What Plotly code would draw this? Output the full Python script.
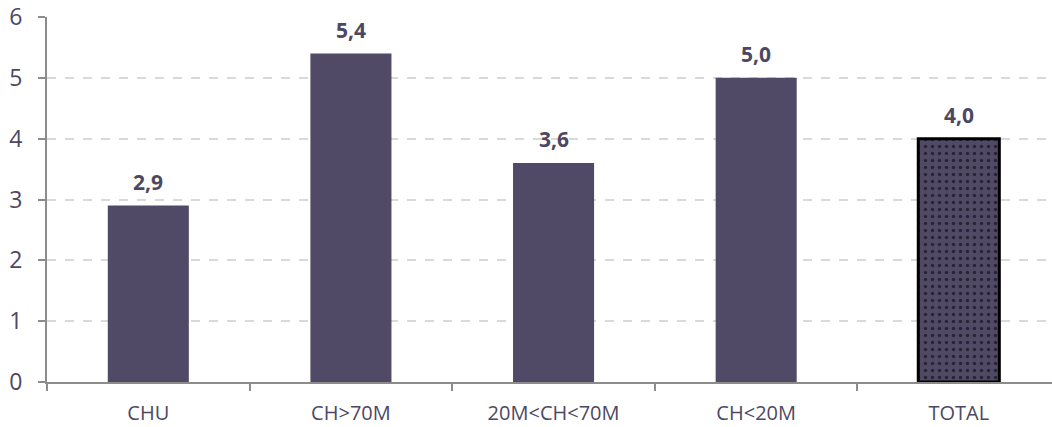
import plotly.graph_objects as go

categories = ["CHU", "CH>70M", "20M<CH<70M", "CH<20M", "TOTAL"]
values = [2.9, 5.4, 3.6, 5.0, 4.0]
labels = ["2,9", "5,4", "3,6", "5,0", "4,0"]

bar_color = "#514a66"
text_color = "#4d4862"

fig = go.Figure()
fig.add_trace(go.Bar(
    x=categories[:-1], y=values[:-1], width=0.4,
    marker=dict(color=bar_color, line=dict(width=0)),
    hoverinfo="skip",
))
fig.add_trace(go.Bar(
    x=categories[-1:], y=values[-1:], width=0.4,
    marker=dict(color=bar_color, line=dict(color="black", width=3),
                pattern=dict(shape=".", fgcolor="black", bgcolor=bar_color,
                             size=7, solidity=0.2)),
    hoverinfo="skip",
))

for c, v, t in zip(categories, values, labels):
    fig.add_annotation(x=c, y=v, text="<b>%s</b>" % t, showarrow=False,
                       yanchor="bottom", yshift=8,
                       font=dict(size=21, color=text_color, family="Open Sans"))

fig.update_layout(
    width=1052, height=427,
    margin=dict(l=47, r=0, t=17, b=45),
    plot_bgcolor="white", paper_bgcolor="white",
    showlegend=False, barmode="overlay",
    font=dict(family="Open Sans", color=text_color),
)
fig.update_xaxes(
    categoryorder="array", categoryarray=categories,
    range=[-0.5, 4.46], automargin=False,
    showline=True, linecolor="#8c8c8c", linewidth=2,
    ticks="outside", tickson="boundaries", ticklen=7, tickcolor="#8c8c8c", tickwidth=2,
    tickfont=dict(size=20, color=text_color),
    ticklabelstandoff=12,
    showgrid=False, zeroline=False,
)
fig.update_yaxes(
    range=[0, 6], dtick=1, automargin=False,
    showline=True, linecolor="#8c8c8c", linewidth=2,
    ticks="outside", ticklen=7, tickcolor="#8c8c8c", tickwidth=2,
    tickfont=dict(size=23, color=text_color),
    ticklabelstandoff=11,
    showgrid=True, gridcolor="#d9d9d9", griddash="dash", gridwidth=1.5,
    zeroline=False,
)

fig.write_html("out.html")
